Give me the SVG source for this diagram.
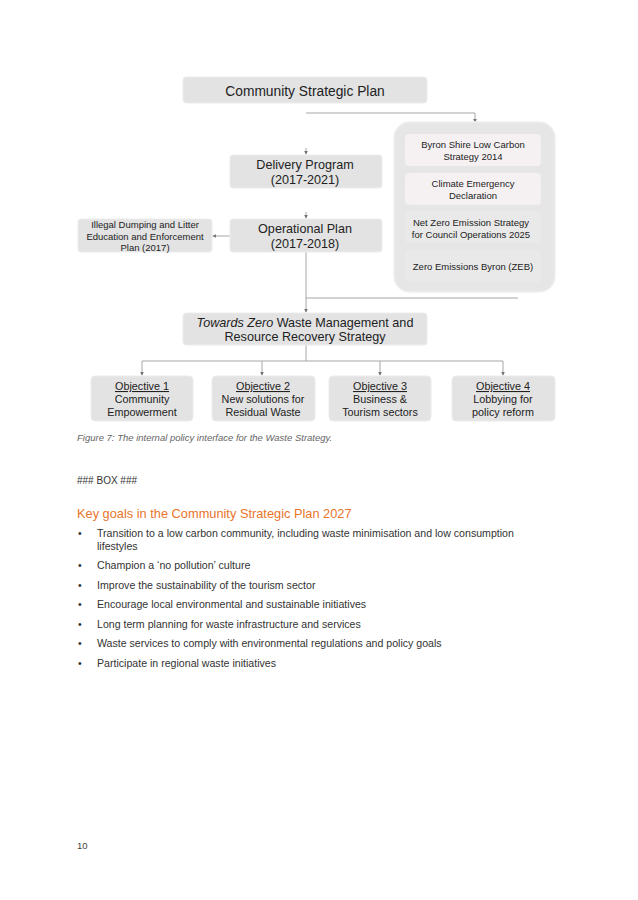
<svg xmlns="http://www.w3.org/2000/svg" width="638" height="900" viewBox="0 0 638 900">
<style>
text{font-family:"Liberation Sans",Arial,sans-serif;fill:#222}
.box{fill:#e3e3e3;stroke:#ececec;stroke-width:1}
.grp{fill:#e6e6e6;stroke:#efefef;stroke-width:1.5}
.inl{fill:#f5f1f3}
.ind{fill:#e9e9e9}
.c{stroke:#a6a6a6;stroke-width:1;fill:none}
.big{font-size:12.6px;text-anchor:middle}
.mid{font-size:10.8px;text-anchor:middle}
.sm{font-size:9.5px;text-anchor:middle}
.body{font-size:10.6px;fill:#333}
</style>
<defs>
<marker id="a" viewBox="0 0 6 6" refX="5" refY="3" markerWidth="4" markerHeight="4" orient="auto"><path d="M0,0L6,3L0,6z" fill="#777"/></marker>
</defs>
<rect width="638" height="900" fill="#fff"/>
<g id="connectors">
<polyline class="c" points="306,113 475,113 475,122" marker-end="url(#a)"/>
<line class="c" x1="306" y1="148" x2="306" y2="154" marker-end="url(#a)"/>
<line class="c" x1="306" y1="212" x2="306" y2="218" marker-end="url(#a)"/>
<line class="c" x1="230" y1="236" x2="213" y2="236" marker-end="url(#a)"/>
<line class="c" x1="306" y1="252" x2="306" y2="312" marker-end="url(#a)"/>
<line class="c" x1="306" y1="298" x2="518" y2="298"/>
<line class="c" x1="306" y1="345" x2="306" y2="361"/>
<line class="c" x1="142" y1="361" x2="503" y2="361"/>
<line class="c" x1="142" y1="361" x2="142" y2="375" marker-end="url(#a)"/>
<line class="c" x1="262" y1="361" x2="262" y2="375" marker-end="url(#a)"/>
<line class="c" x1="380" y1="361" x2="380" y2="375" marker-end="url(#a)"/>
<line class="c" x1="503" y1="361" x2="503" y2="375" marker-end="url(#a)"/>
</g>
<g id="csp">
<rect class="box" x="183" y="77" width="244" height="26" rx="3"/>
<text class="big" x="305" y="96" style="font-size:13.8px">Community Strategic Plan</text>
</g>
<g id="lowcarbon-group">
<rect class="grp" x="394" y="122" width="161" height="170" rx="16"/>
</g>
<g id="byron-low-carbon">
<rect class="inl" x="405" y="134" width="136" height="32" rx="4"/>
<text class="sm" x="473" y="148">Byron Shire Low Carbon</text>
<text class="sm" x="473" y="160">Strategy 2014</text>
</g>
<g id="climate-emergency">
<rect class="inl" x="405" y="173" width="136" height="32" rx="4"/>
<text class="sm" x="473" y="187">Climate Emergency</text>
<text class="sm" x="473" y="199">Declaration</text>
</g>
<g id="net-zero">
<rect class="ind" x="405" y="211" width="136" height="32" rx="4"/>
<text class="sm" x="471" y="226">Net Zero Emission Strategy</text>
<text class="sm" x="471" y="238">for Council Operations 2025</text>
</g>
<g id="zeb">
<rect class="ind" x="405" y="250" width="136" height="32" rx="4"/>
<text class="sm" x="473" y="270">Zero Emissions Byron (ZEB)</text>
</g>
<g id="delivery">
<rect class="box" x="230" y="155" width="152" height="33" rx="3"/>
<text class="big" x="305" y="169">Delivery Program</text>
<text class="big" x="305" y="184">(2017-2021)</text>
</g>
<g id="operational">
<rect class="box" x="230" y="219" width="152" height="33" rx="3"/>
<text class="big" x="305" y="233">Operational Plan</text>
<text class="big" x="305" y="248">(2017-2018)</text>
</g>
<g id="illegal-dumping">
<rect class="box" x="78" y="219" width="134" height="33" rx="3"/>
<text class="sm" x="145" y="228">Illegal Dumping and Litter</text>
<text class="sm" x="145" y="239.5">Education and Enforcement</text>
<text class="sm" x="145" y="251">Plan (2017)</text>
</g>
<g id="towards-zero">
<rect class="box" x="183" y="313" width="244" height="32" rx="3"/>
<text class="big" x="305" y="327"><tspan font-style="italic">Towards Zero</tspan> Waste Management and</text>
<text class="big" x="305" y="341">Resource Recovery Strategy</text>
</g>
<g id="obj1">
<rect class="box" x="91" y="376" width="102" height="45" rx="4"/>
<text class="mid" x="142" y="390" text-decoration="underline">Objective 1</text>
<text class="mid" x="142" y="403">Community</text>
<text class="mid" x="142" y="416">Empowerment</text>
</g>
<g id="obj2">
<rect class="box" x="212" y="376" width="103" height="45" rx="4"/>
<text class="mid" x="263" y="390" text-decoration="underline">Objective 2</text>
<text class="mid" x="263" y="403">New solutions for</text>
<text class="mid" x="263" y="416">Residual Waste</text>
</g>
<g id="obj3">
<rect class="box" x="329" y="376" width="102" height="45" rx="4"/>
<text class="mid" x="380" y="390" text-decoration="underline">Objective 3</text>
<text class="mid" x="380" y="403">Business &amp;</text>
<text class="mid" x="380" y="416">Tourism sectors</text>
</g>
<g id="obj4">
<rect class="box" x="452" y="376" width="103" height="45" rx="4"/>
<text class="mid" x="503" y="390" text-decoration="underline">Objective 4</text>
<text class="mid" x="503" y="403">Lobbying for</text>
<text class="mid" x="503" y="416">policy reform</text>
</g>
<text x="77" y="441" style="font-size:9.5px;font-style:italic;fill:#666">Figure 7: The internal policy interface for the Waste Strategy.</text>
<text x="77" y="484" style="font-size:10px;fill:#333">### BOX ###</text>
<text x="77" y="518" style="font-size:12.8px;fill:#e8742a">Key goals in the Community Strategic Plan 2027</text>
<g class="body">
<text class="body" x="78" y="537">•</text><text class="body" x="97" y="537">Transition to a low carbon community, including waste minimisation and low consumption</text>
<text class="body" x="97" y="550">lifestyles</text>
<text class="body" x="78" y="569">•</text><text class="body" x="97" y="569">Champion a ‘no pollution’ culture</text>
<text class="body" x="78" y="589">•</text><text class="body" x="97" y="589">Improve the sustainability of the tourism sector</text>
<text class="body" x="78" y="608">•</text><text class="body" x="97" y="608">Encourage local environmental and sustainable initiatives</text>
<text class="body" x="78" y="628">•</text><text class="body" x="97" y="628">Long term planning for waste infrastructure and services</text>
<text class="body" x="78" y="647">•</text><text class="body" x="97" y="647">Waste services to comply with environmental regulations and policy goals</text>
<text class="body" x="78" y="667">•</text><text class="body" x="97" y="667">Participate in regional waste initiatives</text>
</g>
<text x="77" y="849" style="font-size:9.5px;fill:#444">10</text>
</svg>
